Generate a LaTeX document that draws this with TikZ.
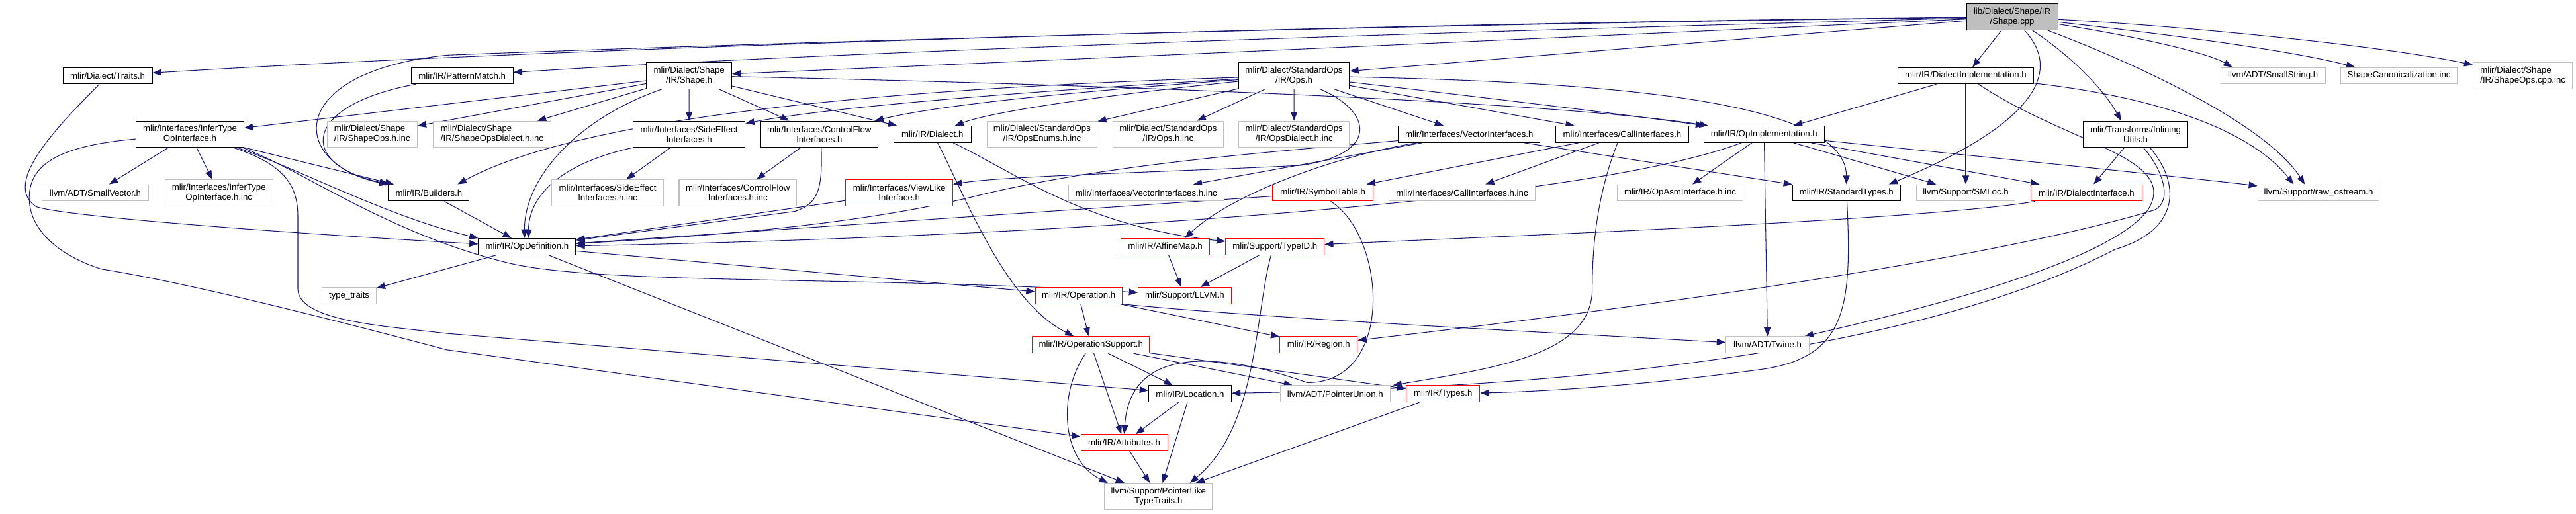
\documentclass[tikz,border=0pt]{standalone}
\usepackage{fontspec}
\setmainfont{Liberation Sans}
\usetikzlibrary{arrows.meta,calc}
\definecolor{edgec}{HTML}{191970}
\definecolor{greyb}{HTML}{BFBFBF}
\definecolor{redb}{HTML}{FF0000}
\pgfdeclarelayer{bgl}
\pgfdeclarelayer{edges}
\pgfsetlayers{bgl,edges,main}
\begin{document}
\begin{tikzpicture}[x=0.75pt,y=-0.75pt,
 nd/.style={rectangle, inner sep=0pt, align=center, font=\fontsize{10}{11.25}\selectfont, line width=0.8pt, fill=white},
 blk/.style={nd, draw=black},
 gry/.style={nd, draw=greyb},
 rdd/.style={nd, draw=redb},
 rootst/.style={nd, draw=black, fill=greyb},
 lft/.style={align=left},
 W/.style={minimum width=#1*0.75pt},
 one/.style={minimum height=18.75pt},
 two/.style={minimum height=30pt},
 ed/.style={draw=edgec, line width=0.8pt, -{Triangle[length=10pt,width=7.5pt]}}]
\begin{pgfonlayer}{bgl}
\path[use as bounding box, fill=white] (0,0) rectangle (3892,783);
\end{pgfonlayer}
% row 0/1
\node[rootst,W=139,two] (root) at (3033.4,25.8) {lib/Dialect/Shape/IR\\/Shape.cpp};
\node[blk,W=136,one] (traits) at (133.3,115.3) {mlir/Dialect/Traits.h};
\node[blk,W=155,one] (pattern) at (673.2,115.3) {mlir/IR/PatternMatch.h};
\node[blk,W=130,two] (shapeh) at (1018.8,115.3) {mlir/Dialect/Shape\\/IR/Shape.h};
\node[blk,W=169,two] (opsh) at (1939.8,115.3) {mlir/Dialect/StandardOps\\/IR/Ops.h};
\node[blk,W=207,one] (dimpl) at (2962.7,115.3) {mlir/IR/DialectImplementation.h};
\node[gry,W=159,one] (smallstr) at (3430.6,115.3) {llvm/ADT/SmallString.h};
\node[gry,W=177,one] (canon) at (3622.5,115.3) {ShapeCanonicalization.inc};
\node[gry,lft,W=151,two] (cppinc) at (3811,115.3) {mlir/Dialect/Shape\\/IR/ShapeOps.cpp.inc};
% row 2
\node[blk,W=164,two] (infer) at (258.7,204.5) {mlir/Interfaces/InferType\\OpInterface.h};
\node[gry,lft,W=137,two] (shopsinc) at (536.2,204.5) {mlir/Dialect/Shape\\/IR/ShapeOps.h.inc};
\node[gry,lft,W=179,two] (shdialinc) at (718.8,204.5) {mlir/Dialect/Shape\\/IR/ShapeOpsDialect.h.inc};
\node[blk,W=171,two] (sideeff) at (1018.7,204.5) {mlir/Interfaces/SideEffect\\Interfaces.h};
\node[blk,W=178,two] (ctrlflow) at (1217,204.5) {mlir/Interfaces/ControlFlow\\Interfaces.h};
\node[blk,W=118,one] (dialect) at (1389.2,204.5) {mlir/IR/Dialect.h};
\node[gry,W=168,two] (enumsinc) at (1556.2,204.5) {mlir/Dialect/StandardOps\\/IR/OpsEnums.h.inc};
\node[gry,W=168,two] (opsinc) at (1748.2,204.5) {mlir/Dialect/StandardOps\\/IR/Ops.h.inc};
\node[gry,W=168,two] (opsdialinc) at (1940,204.5) {mlir/Dialect/StandardOps\\/IR/OpsDialect.h.inc};
\node[blk,W=216,one] (vector) at (2206.6,204.5) {mlir/Interfaces/VectorInterfaces.h};
\node[blk,W=202,one] (call) at (2439.7,204.5) {mlir/Interfaces/CallInterfaces.h};
\node[blk,W=183,one] (opimpl) at (2655.7,204.5) {mlir/IR/OpImplementation.h};
\node[blk,W=159,two] (inlining) at (3221.3,204.5) {mlir/Transforms/Inlining\\Utils.h};
% row 3
\node[gry,W=162,one] (smallvec) at (114.6,293.8) {llvm/ADT/SmallVector.h};
\node[gry,W=164,two] (inferinc) at (302.8,293.7) {mlir/Interfaces/InferType\\OpInterface.h.inc};
\node[blk,W=123,one] (builders) at (622.4,293.8) {mlir/IR/Builders.h};
\node[gry,W=170,two] (sideinc) at (894.8,293.7) {mlir/Interfaces/SideEffect\\Interfaces.h.inc};
\node[gry,W=179,two] (ctrlinc) at (1093,293.7) {mlir/Interfaces/ControlFlow\\Interfaces.h.inc};
\node[rdd,W=163,two] (viewlike) at (1338.8,293.7) {mlir/Interfaces/ViewLike\\Interface.h};
\node[gry,W=237,one] (vectorinc) at (1714.8,293.8) {mlir/Interfaces/VectorInterfaces.h.inc};
\node[rdd,W=153,one] (symtab) at (1983.8,293.8) {mlir/IR/SymbolTable.h};
\node[gry,W=223,one] (callinc) at (2195.8,293.8) {mlir/Interfaces/CallInterfaces.h.inc};
\node[gry,W=192,one] (opasminc) at (2527.9,293.8) {mlir/IR/OpAsmInterface.h.inc};
\node[blk,W=164,one] (stdtypes) at (2781.2,293.8) {mlir/IR/StandardTypes.h};
\node[gry,W=151,one] (smloc) at (2962.7,293.8) {llvm/Support/SMLoc.h};
\node[rdd,W=169,one] (dialiface) at (3146.6,293.8) {mlir/IR/DialectInterface.h};
\node[gry,W=185,one] (rawos) at (3500,293.8) {llvm/Support/raw\_ostream.h};
% row 4+
\node[blk,W=148,one] (opdef) at (772.1,375.8) {mlir/IR/OpDefinition.h};
\node[rdd,W=135,one] (affine) at (1743.8,375.8) {mlir/IR/AffineMap.h};
\node[rdd,W=150,one] (typeid) at (1910.9,375.8) {mlir/Support/TypeID.h};
\node[gry,W=82,one] (typetraits) at (501.2,450.3) {type\_traits};
\node[rdd,W=132,one] (operation) at (1611.9,450.3) {mlir/IR/Operation.h};
\node[rdd,W=142,one] (llvmh) at (1773.4,450.3) {mlir/Support/LLVM.h};
\node[rdd,W=178,one] (opsupport) at (1630.6,525.3) {mlir/IR/OperationSupport.h};
\node[rdd,W=118,one] (region) at (1977.4,525.3) {mlir/IR/Region.h};
\node[gry,W=127,one] (twine) at (2661,525.3) {llvm/ADT/Twine.h};
\node[blk,W=126,one] (location) at (1781.5,600) {mlir/IR/Location.h};
\node[gry,W=167,one] (ptrunion) at (2002.6,600) {llvm/ADT/PointerUnion.h};
\node[rdd,W=112,one] (types) at (2166.8,600) {mlir/IR/Types.h};
\node[rdd,W=132,one] (attrs) at (1681.4,674.3) {mlir/IR/Attributes.h};
\node[gry,W=164,two] (plt) at (1733.4,756.3) {llvm/Support/PointerLike\\TypeTraits.h};

\begin{pgfonlayer}{edges}
% root
\draw[ed] (root) .. controls (2200,33) and (900,68) .. (traits);
\draw[ed] (root) .. controls (2300,45) and (1300,75) .. (pattern);
\draw[ed] (root) .. controls (2400,55) and (1500,95) .. (shapeh);
\draw[ed] (root) -- (opsh);
\draw[ed] (root) .. controls (2000,38) and (1000,70) .. (650,84) .. controls (400,110) and (410,250) .. (builders);
\draw[ed] (root) -- (dimpl);
\draw[ed] (root) .. controls (3120,120) and (3040,200) .. ($(stdtypes.north east)+(-18,0)$);
\draw[ed] (root) .. controls (3130,90) and (3175,140) .. ($(inlining.north)+(-22,0)$);
\draw[ed] (root) .. controls (3300,40) and (3600,70) .. (cppinc);
\draw[ed] (root) .. controls (3250,50) and (3450,75) .. ($(canon.north west)+(22,0)$);
\draw[ed] (root) .. controls (3220,55) and (3330,80) .. ($(smallstr.north west)+(18,0)$);
\draw[ed] (root) .. controls (3230,100) and (3420,190) .. ($(rawos.north west)+(72,0)$);
% DialectImplementation
\draw[ed] (dimpl) -- (opimpl);
\draw[ed] (dimpl) -- (smloc);
\draw[ed] (dimpl) .. controls (3230,145) and (3390,190) .. ($(rawos.north west)+(55,0)$);
\draw[ed] (dimpl) .. controls (3120,220) and (3290,240) .. (3240,320) .. controls (3180,400) and (2900,470) .. (twine);
% InliningUtils
\draw[ed] (inlining) -- (dialiface);
\draw[ed] ($(inlining.south)+(12,0)$) .. controls (3260,255) and (3280,305) .. (3250,320) .. controls (3000,395) and (2500,465) .. (region);
\draw[ed] ($(inlining.south)+(22,0)$) .. controls (3290,280) and (3290,350) .. (3190,380) .. controls (2900,530) and (2400,590) .. (location);
% OpImplementation
\draw[ed] (opimpl) -- (opasminc);
\draw[ed] (opimpl) -- (twine);
\draw[ed] (opimpl) -- (smloc);
\draw[ed] (opimpl) -- (dialiface);
\draw[ed] (opimpl) .. controls (2950,235) and (3250,265) .. (rawos);
\draw[ed] (opimpl) .. controls (2350,320) and (1400,365) .. (opdef);
% StandardOps Ops.h
\draw[ed] (opsh) .. controls (1600,135) and (1250,160) .. (sideeff);
\draw[ed] (opsh) .. controls (1600,140) and (1400,160) .. (ctrlflow);
\draw[ed] (opsh) .. controls (1650,145) and (1480,170) .. (dialect);
\draw[ed] (opsh) .. controls (1300,135) and (850,180) .. ($(builders.north east)+(-18,0)$);
\draw[ed] (opsh) -- (enumsinc);
\draw[ed] (opsh) -- (opsinc);
\draw[ed] (opsh) -- (opsdialinc);
\draw[ed] (opsh) -- (vector);
\draw[ed] (opsh) -- (call);
\draw[ed] (opsh) .. controls (2200,145) and (2450,175) .. (opimpl);
\draw[ed] (opsh) .. controls (2400,125) and (2780,150) .. (stdtypes);
\draw[ed] ($(opsh.south)+(40,0)$) .. controls (2060,170) and (2070,235) .. (1950,252) .. controls (1750,262) and (1500,268) .. (viewlike);
% VectorInterfaces
\draw[ed] (vector) .. controls (1900,232) and (1650,250) .. (1450,300) .. controls (1250,348) and (1000,362) .. (opdef);
\draw[ed] (vector) -- (vectorinc);
\draw[ed] (vector) .. controls (1990,240) and (1840,300) .. ($(affine.north east)+(-38,0)$);
\draw[ed] (vector) -- (stdtypes);
% CallInterfaces
\draw[ed] (call) -- (symtab);
\draw[ed] (call) -- (callinc);
\draw[ed] ($(call.south)+(-7,0)$) .. controls (2400,300) and (2394,380) .. (2394,440) .. controls (2394,540) and (2250,560) .. ($(ptrunion.north east)+(4,0)$);
% Traits
\draw[ed] (traits) .. controls (60,190) and (-30,280) .. (25,315) .. controls (70,330) and (400,355) .. (opdef);
% InferTypeOpInterface
\draw[ed] (infer) .. controls (60,222) and (15,250) .. (14,300) .. controls (13,350) and (60,390) .. (124,410) .. controls (250,430) and (450,480) .. (650,533) -- (attrs);
\draw[ed] (infer) -- (smallvec);
\draw[ed] (infer) -- (inferinc);
\draw[ed] (infer) -- (builders);
\draw[ed] ($(infer.south east)+(-10,0)$) .. controls (430,260) and (560,330) .. (opdef.north west);
\draw[ed] ($(infer.south east)+(-2,0)$) .. controls (440,265) and (560,355) .. (741,400) .. controls (880,435) and (1300,420) .. (llvmh);
\draw[ed] ($(infer.south east)+(-16,0)$) .. controls (400,250) and (423,280) .. (423,330) -- (423,440) .. controls (423,490) and (560,497) .. (650,508) -- (location);
% PatternMatch
\draw[ed] (pattern) .. controls (430,160) and (420,250) .. (builders);
% Shape.h
\draw[ed] (shapeh) -- (infer);
\draw[ed] (shapeh) -- (shopsinc);
\draw[ed] (shapeh) -- (shdialinc);
\draw[ed] (shapeh) -- (sideeff);
\draw[ed] (shapeh) -- (ctrlflow);
\draw[ed] ($(shapeh.south west)+(24,0)$) .. controls (850,180) and (768,270) .. ($(opdef.north)+(-4,0)$);
\draw[ed] (shapeh) -- (dialect);
\draw[ed] (shapeh) .. controls (1500,125) and (2300,150) .. (opimpl);
% Builders
\draw[ed] (builders) -- (opdef);
% ControlFlow / SideEffect / ViewLike
\draw[ed] (ctrlflow) -- (ctrlinc);
\draw[ed] ($(ctrlflow.south)+(3,0)$) .. controls (1222,290) and (1215,310) .. (1180,322) -- (opdef);
\draw[ed] (sideeff) -- (sideinc);
\draw[ed] (sideeff.south west) .. controls (820,250) and (775,300) .. ($(opdef.north)+(2,0)$);
\draw[ed] (viewlike) -- (opdef);
% SymbolTable
\draw[ed] (symtab) -- (opdef);
\draw[ed] ($(symtab.south)+(12,0)$) .. controls (2080,360) and (2095,583) .. (1960,583) .. controls (1840,540) and (1690,520) .. (attrs.north);
% Dialect
\draw[ed] ($(dialect.south)+(8,0)$) .. controls (1440,300) and (1500,460) .. (opsupport);
\draw[ed] ($(dialect.south east)+(-28,0)$) .. controls (1520,265) and (1620,345) .. (typeid);
% DialectInterface
\draw[ed] (dialiface) .. controls (2900,335) and (2300,358) .. (typeid);
% TypeID
\draw[ed] (typeid) -- (llvmh);
\draw[ed] ($(typeid.south)+(-6,0)$) .. controls (1880,480) and (1885,650) .. ($(plt.north)+(48,0)$);
% AffineMap
\draw[ed] (affine) -- (llvmh);
% OpDefinition
\draw[ed] (opdef) -- (typetraits);
\draw[ed] (opdef) -- (operation);
\draw[ed] (opdef) -- (plt);
% Operation
\draw[ed] (operation) -- (opsupport);
\draw[ed] (operation) -- (region);
\draw[ed] (operation.south east) .. controls (1900,485) and (2300,505) .. (twine);
% OperationSupport
\draw[ed] (opsupport) -- (attrs);
\draw[ed] (opsupport) -- (location);
\draw[ed] ($(opsupport.south)+(-8,0)$) .. controls (1580,600) and (1585,700) .. ($(plt.north)+(-77,0)$);
\draw[ed] (opsupport) -- (ptrunion);
\draw[ed] (opsupport) -- (types);
% Location / Attributes / Types / StandardTypes
\draw[ed] (location) -- (attrs);
\draw[ed] (location) -- (plt);
\draw[ed] (attrs) -- (plt);
\draw[ed] (types) -- (plt);
\draw[ed] (stdtypes) .. controls (2790,470) and (2780,545) .. (2650,563) .. controls (2450,590) and (2300,597) .. (types);
\end{pgfonlayer}
\end{tikzpicture}
\end{document}
